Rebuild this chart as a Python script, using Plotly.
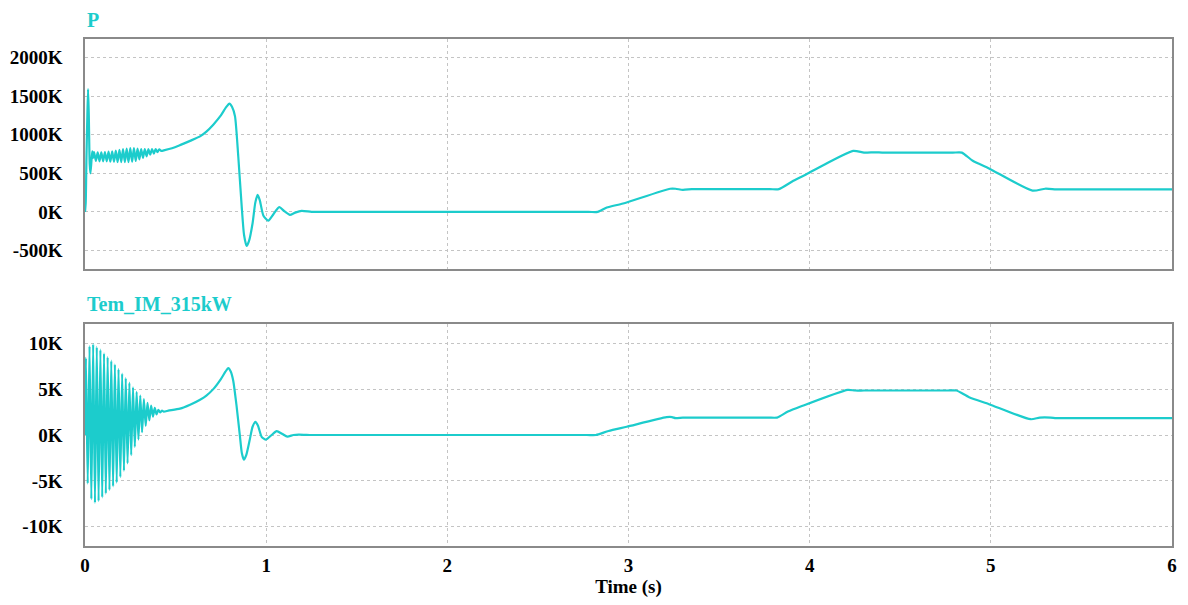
import plotly.graph_objects as go

# ---------------- data ----------------
p_time = [0.000, 0.004, 0.008, 0.013, 0.017, 0.021, 0.026, 0.030, 0.035, 0.040, 0.045,
          0.05, 0.06, 0.07, 0.08, 0.09, 0.10, 0.11, 0.12, 0.13, 0.14, 0.15, 0.16, 0.17, 0.18,
          0.19, 0.20, 0.21, 0.22, 0.23, 0.24, 0.25, 0.26, 0.27, 0.28, 0.29, 0.30, 0.31, 0.32,
          0.33, 0.34, 0.35, 0.36, 0.37, 0.38, 0.39, 0.40, 0.41, 0.42, 0.44,
          0.48, 0.52, 0.58, 0.635, 0.67, 0.708, 0.75, 0.78, 0.797, 0.812, 0.828, 0.846,
          0.865, 0.878, 0.892, 0.905, 0.925, 0.94, 0.953, 0.965, 0.985, 1.012, 1.04, 1.072,
          1.10, 1.131, 1.16, 1.196, 1.25, 1.30, 2.78, 2.83, 2.88, 2.97, 3.23, 3.26, 3.30,
          3.35, 3.40, 3.78, 3.83, 3.91, 3.98, 4.24, 4.30, 4.36, 4.40, 4.45, 4.79, 4.84,
          4.90, 4.99, 5.23, 5.30, 5.36, 5.41, 6.0]
p_value_k = [0, 120, 700, 1250, 1590, 1250, 620, 500, 640, 785, 700,
             775, 660, 770, 655, 770, 655, 775, 655, 780, 650, 785, 650, 795, 645,
             805, 645, 815, 645, 820, 645, 825, 650, 825, 660, 820, 680, 815, 700,
             815, 720, 815, 740, 815, 755, 815, 775, 810, 790, 800,
             825, 860, 920, 978, 1040, 1130, 1250, 1360, 1403, 1360, 1238, 718,
             69, -300, -442, -380, -147, 120, 221, 150, -50, -113, -30, 61,
             10, -39, -10, 13, 0, 0, 0, 0, 57, 109, 300, 300, 285,
             295, 295, 295, 295, 403, 485, 790, 768, 772, 768, 768, 768, 768,
             662, 563, 275, 300, 292, 292, 292]

tem_time = [0.000, 0.005, 0.015, 0.025, 0.035, 0.045, 0.055, 0.065, 0.075, 0.085, 0.095,
            0.105, 0.115, 0.125, 0.135, 0.145, 0.155, 0.165, 0.175, 0.185, 0.195, 0.205,
            0.215, 0.225, 0.235, 0.245, 0.255, 0.265, 0.275, 0.285, 0.295, 0.305, 0.315,
            0.325, 0.335, 0.345, 0.355, 0.365, 0.375, 0.385, 0.395, 0.405, 0.415, 0.425,
            0.435, 0.46, 0.524, 0.58, 0.635, 0.67, 0.708, 0.75, 0.775, 0.791, 0.805, 0.818,
            0.837, 0.855, 0.866, 0.877, 0.89, 0.91, 0.925, 0.941, 0.955, 0.975, 0.999, 1.03,
            1.058, 1.09, 1.117, 1.15, 1.18, 1.25, 1.30, 2.77, 2.82, 2.89, 2.99, 3.21, 3.24,
            3.26, 3.30, 3.35, 3.77, 3.82, 3.88, 3.95, 4.21, 4.25, 4.30, 4.76, 4.81, 4.88,
            4.99, 5.22, 5.27, 5.33, 5.36, 5.41, 6.0]
tem_value_k = [0, 8.4, -5.3, 9.7, -7.0, 9.9, -7.4, 9.6, -7.2, 9.3, -6.8,
               8.9, -6.4, 8.5, -6.0, 8.1, -5.6, 7.7, -5.2, 7.2, -4.6, 6.7,
               -3.9, 6.2, -3.1, 5.7, -2.2, 5.2, -1.3, 4.7, -0.5, 4.3, 0.3,
               3.9, 1.0, 3.5, 1.6, 3.2, 2.0, 2.95, 2.25, 2.75, 2.45, 2.65,
               2.55, 2.65, 2.87, 3.3, 3.85, 4.3, 5.0, 6.1, 6.9, 7.3, 6.9, 5.94,
               3.1, -0.1, -2.0, -2.7, -2.2, -0.46, 0.9, 1.43, 1.0, -0.2, -0.5, 0.0,
               0.43, 0.1, -0.17, 0.0, 0.05, 0, 0, 0, 0, 0.44, 0.9, 1.94, 1.95,
               1.83, 1.9, 1.9, 1.9, 1.9, 2.55, 3.1, 4.92, 4.85, 4.85, 4.85, 4.85, 4.12,
               3.36, 1.72, 1.9, 1.9, 1.83, 1.85, 1.85]

p_ticks_k = [-500, 0, 500, 1000, 1500, 2000]
p_tick_text = ["-500K", "0K", "500K", "1000K", "1500K", "2000K"]
tem_ticks_k = [-10, -5, 0, 5, 10]
tem_tick_text = ["-10K", "-5K", "0K", "5K", "10K"]
time_ticks = [0, 1, 2, 3, 4, 5, 6]

# ---------------- styling ----------------
CYAN = "#1ccccc"
FONT = "Liberation Serif"
GRID = "#c4c4c4"
FRAME = "#8a8a8a"
TICK_FONT = dict(family=FONT, size=19, color="black", weight="bold")

# the page body adds an 8px offset; target pixel positions are in window coords
OFF = 8
W, H = 1188, 605
left, right, top, bottom = 85 - OFF, 1172 - OFF, 39 - OFF, 546 - OFF

fig = go.Figure()
fig.add_trace(go.Scatter(x=p_time, y=[v * 1000 for v in p_value_k], mode="lines",
                         line=dict(color=CYAN, width=2.2, shape="spline", smoothing=0.6),
                         xaxis="x", yaxis="y", showlegend=False, hoverinfo="skip"))
fig.add_trace(go.Scatter(x=tem_time, y=[v * 1000 for v in tem_value_k], mode="lines",
                         line=dict(color=CYAN, width=2.2, shape="spline", smoothing=0.6),
                         xaxis="x2", yaxis="y2", showlegend=False, hoverinfo="skip"))

axis_common = dict(showline=True, mirror=True, linecolor=FRAME, linewidth=1.5,
                   showgrid=True, gridcolor=GRID, griddash="dot", gridwidth=1,
                   zeroline=False, ticks="", automargin=False, tickfont=TICK_FONT)

plot_h = bottom - top
top_dom = [(546 - 269) / plot_h, 1.0]
bot_dom = [0.0, (546 - 324) / plot_h]

fig.update_layout(
    width=W, height=H,
    margin=dict(l=left, r=W - right, t=top, b=H - bottom),
    paper_bgcolor="white", plot_bgcolor="white",
    xaxis=dict(**axis_common, range=[0, 6], tickvals=time_ticks, showticklabels=False,
               anchor="y", domain=[0, 1]),
    yaxis=dict(**axis_common, range=[-740000, 2240000],
               tickvals=[v * 1000 for v in p_ticks_k], ticktext=p_tick_text,
               domain=top_dom, anchor="x", ticklabelstandoff=17),
    xaxis2=dict(**axis_common, range=[0, 6], tickvals=time_ticks,
                ticktext=[str(t) for t in time_ticks], anchor="y2", domain=[0, 1],
                matches="x", ticklabelstandoff=1,
                title=dict(text="Time (s)", standoff=4,
                           font=dict(family=FONT, size=19, color="black", weight="bold"))),
    yaxis2=dict(**axis_common, range=[-12100, 12100],
                tickvals=[v * 1000 for v in tem_ticks_k], ticktext=tem_tick_text,
                domain=bot_dom, anchor="x2", ticklabelstandoff=17),
)

for text, ypx in [("P", 20), ("Tem_IM_315kW", 304)]:
    fig.add_annotation(text=text, x=0, y=(546 - ypx) / plot_h, xref="paper", yref="paper",
                       xanchor="left", yanchor="middle", showarrow=False,
                       font=dict(family=FONT, size=20, color=CYAN, weight="bold"))

fig.write_html("out.html")
